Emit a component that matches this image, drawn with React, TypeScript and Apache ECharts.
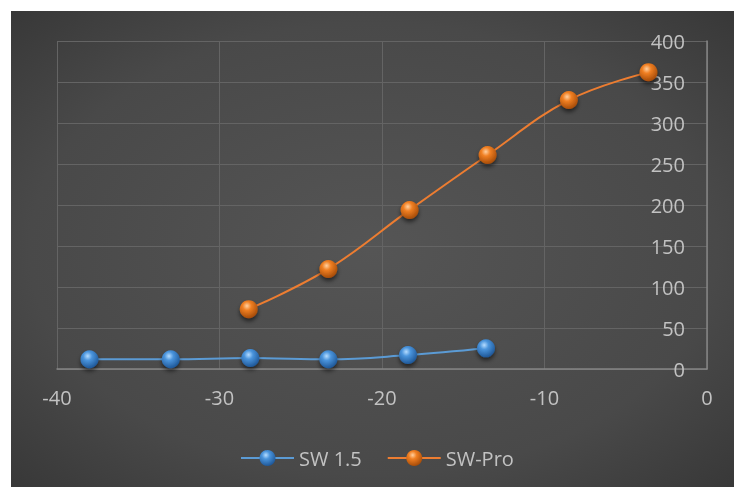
import React, { useEffect, useRef } from "react";
import * as echarts from "echarts";

const sw15X = [-38, -33, -28.1, -23.3, -18.4, -13.6];
const sw15Y = [11.8, 11.8, 13.4, 11.8, 17, 25.2];
const proX = [-28.2, -23.3, -18.3, -13.5, -8.5, -3.6];
const proY = [73, 122, 194, 261, 328, 362];
const seriesNames = ["SW 1.5", "SW-Pro"];
const xTicks = { min: -40, max: 0, interval: 10 };
const yTicks = { min: 0, max: 400, interval: 50 };

const W = 723;
const H = 476;

function sphere(light: string, base: string, dark: string) {
  return {
    type: "radial",
    x: 0.4,
    y: 0.32,
    r: 0.7,
    colorStops: [
      { offset: 0, color: light },
      { offset: 0.35, color: base },
      { offset: 1, color: dark },
    ],
  };
}

export default function App() {
  const ref = useRef<HTMLDivElement>(null);
  useEffect(() => {
    if (!ref.current) return;
    const chart = echarts.init(ref.current, undefined, { renderer: "svg" });
    const labelColor = "#c2c2c2";
    const font = "'Open Sans', sans-serif";
    chart.setOption({
      animation: false,
      graphic: [
        {
          type: "rect",
          z: -100,
          silent: true,
          shape: { x: 0, y: 0, width: W, height: H },
          style: {
            fill: {
              type: "radial",
              x: 0.5,
              y: 0.5,
              r: 0.95,
              colorStops: [
                { offset: 0, color: "#555555" },
                { offset: 0.5, color: "#494949" },
                { offset: 1, color: "#262626" },
              ],
            },
          },
        },
      ],
      grid: { left: 46, right: 27, top: 30, bottom: 118, containLabel: false },
      legend: {
        left: 224,
        top: 432,
        itemWidth: 53,
        itemHeight: 20,
        itemGap: 25,
        textStyle: { color: labelColor, fontSize: 20, fontFamily: font },
        data: seriesNames,
      },
      xAxis: {
        type: "value",
        min: xTicks.min,
        max: xTicks.max,
        interval: xTicks.interval,
        position: "bottom",
        axisLine: { show: true, lineStyle: { color: "#858585", width: 1.5 } },
        axisTick: { show: false },
        splitLine: { show: true, lineStyle: { color: "#646464", width: 1 } },
        axisLabel: { color: labelColor, fontSize: 20, fontFamily: font, margin: 18 },
      },
      yAxis: {
        type: "value",
        min: yTicks.min,
        max: yTicks.max,
        interval: yTicks.interval,
        position: "right",
        axisLine: { show: true, lineStyle: { color: "#858585", width: 1.5 } },
        axisTick: { show: false },
        splitLine: { show: true, lineStyle: { color: "#646464", width: 1 } },
        axisLabel: {
          inside: true,
          color: labelColor,
          fontSize: 20,
          fontFamily: font,
          margin: 22,
        },
      },
      series: [
        {
          name: seriesNames[0],
          type: "line",
          smooth: 0.4,
          symbol: "circle",
          symbolSize: 18,
          data: sw15X.map((x, i) => [x, sw15Y[i]]),
          lineStyle: { color: "#5b9bd5", width: 2 },
          itemStyle: {
            color: sphere("#b5dcff", "#4a94dc", "#1d5595"),
            shadowBlur: 4,
            shadowOffsetY: 3,
            shadowColor: "rgba(0,0,0,0.55)",
          },
        },
        {
          name: seriesNames[1],
          type: "line",
          smooth: 0.4,
          symbol: "circle",
          symbolSize: 18,
          data: proX.map((x, i) => [x, proY[i]]),
          lineStyle: { color: "#ed7d31", width: 2 },
          itemStyle: {
            color: sphere("#ffd0a0", "#f07f22", "#a34a08"),
            shadowBlur: 4,
            shadowOffsetY: 3,
            shadowColor: "rgba(0,0,0,0.55)",
          },
        },
      ],
    });
    return () => chart.dispose();
  }, []);
  return (
    <div
      ref={ref}
      style={{ position: "fixed", left: 11, top: 11, width: W, height: H }}
    />
  );
}
